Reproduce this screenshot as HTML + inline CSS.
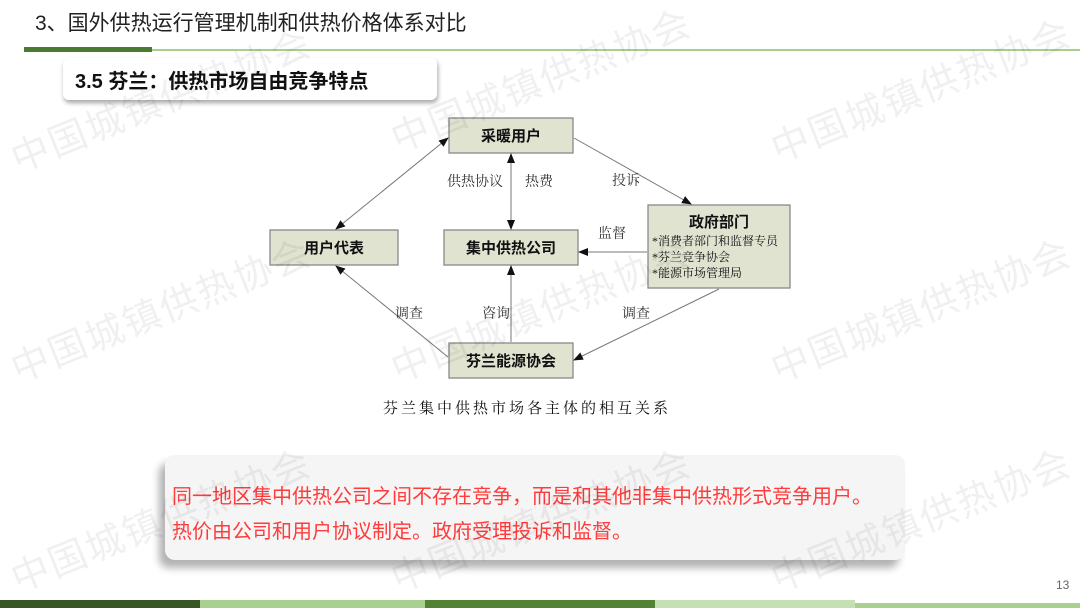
<!DOCTYPE html>
<html><head><meta charset="utf-8"><style>
body{margin:0;width:1080px;height:608px;background:#fff;position:relative;overflow:hidden;font-family:"Liberation Sans","Noto Sans CJK SC",sans-serif;}
.abs{position:absolute}
.wm{position:absolute;color:rgba(0,0,0,0.06);font-size:38px;transform:rotate(-22deg);white-space:nowrap;letter-spacing:2px}
</style></head><body>
<div class="abs" style="left:35px;top:7px;font-size:21px;color:#222">3、国外供热运行管理机制和供热价格体系对比</div>
<div class="abs" style="left:24px;top:47px;width:128px;height:5px;background:#4a7a30"></div>
<div class="abs" style="left:152px;top:49px;width:928px;height:2px;background:#a8d08d"></div>
<div class="abs" style="left:63px;top:58px;width:374px;height:42px;background:#fff;border-radius:6px;box-shadow:1px 3px 5px rgba(0,0,0,0.35)"></div>
<div class="abs" style="left:75px;top:65px;font-size:20px;font-weight:bold;color:#111">3.5 芬兰：供热市场自由竞争特点</div>

<svg class="abs" style="left:0;top:0" width="1080" height="608">
<defs><marker id="a" markerWidth="10" markerHeight="8" refX="9" refY="4" orient="auto-start-reverse" markerUnits="userSpaceOnUse"><path d="M0,0L10,4L0,8z" fill="#111"/></marker></defs>
<g fill="#dfe3d0" stroke="#888" stroke-width="1.3">
<rect x="449" y="118" width="124" height="35"/>
<rect x="270" y="230" width="128" height="35"/>
<rect x="444" y="230" width="134" height="35"/>
<rect x="648" y="205" width="142" height="83"/>
<rect x="449" y="343" width="124" height="35"/>
</g>
<g stroke="#777" stroke-width="1" fill="none">
<line x1="448" y1="138" x2="336" y2="229" marker-start="url(#a)" marker-end="url(#a)"/>
<line x1="511" y1="154" x2="511" y2="229" marker-start="url(#a)" marker-end="url(#a)"/>
<line x1="574" y1="138" x2="691" y2="204" marker-end="url(#a)"/>
<line x1="647" y1="252" x2="579" y2="252" marker-end="url(#a)"/>
<line x1="719" y1="289" x2="574" y2="360" marker-end="url(#a)"/>
<line x1="448" y1="357" x2="336" y2="266" marker-end="url(#a)"/>
<line x1="511" y1="342" x2="511" y2="266" marker-end="url(#a)"/>
</g>
<g font-family="Liberation Sans,Noto Sans CJK SC,sans-serif" fill="#111" font-size="15">
<text x="511" y="141" text-anchor="middle" font-weight="bold">采暖用户</text>
<text x="334" y="253" text-anchor="middle" font-weight="bold">用户代表</text>
<text x="511" y="253" text-anchor="middle" font-weight="bold">集中供热公司</text>
<text x="719" y="227" text-anchor="middle" font-weight="bold">政府部门</text>
<text x="511" y="366" text-anchor="middle" font-weight="bold">芬兰能源协会</text>
<g font-size="12" font-family="Liberation Serif,Noto Serif CJK SC,serif"><text x="652" y="245">*消费者部门和监督专员</text><text x="652" y="261">*芬兰竞争协会</text><text x="652" y="277">*能源市场管理局</text></g>
<g font-size="14" fill="#333" font-family="Liberation Serif,Noto Serif CJK SC,serif"><text x="447" y="186">供热协议</text><text x="525" y="186">热费</text><text x="612" y="185">投诉</text><text x="598" y="238">监督</text><text x="395" y="318">调查</text><text x="482" y="318">咨询</text><text x="622" y="318">调查</text></g>
<text x="527" y="413" text-anchor="middle" font-size="15" letter-spacing="3" font-family="Liberation Serif,Noto Serif CJK SC,serif">芬兰集中供热市场各主体的相互关系</text>
</g>
</svg>

<div class="abs" style="left:165px;top:455px;width:740px;height:105px;background:#f5f5f5;border-radius:10px;box-shadow:-6px 8px 8px rgba(0,0,0,0.3)"></div>
<div class="abs" style="left:172px;top:480px;font-size:20px;color:#ff3b3b;line-height:35px">同一地区集中供热公司之间不存在竞争，而是和其他非集中供热形式竞争用户。<br>热价由公司和用户协议制定。政府受理投诉和监督。</div>
<div class="abs" style="left:1056px;top:578px;font-size:12px;color:#666">13</div>

<div class="wm" style="left:0px;top:70px">中国城镇供热协会</div>
<div class="wm" style="left:380px;top:50px">中国城镇供热协会</div>
<div class="wm" style="left:760px;top:60px">中国城镇供热协会</div>
<div class="wm" style="left:0px;top:280px">中国城镇供热协会</div>
<div class="wm" style="left:380px;top:280px">中国城镇供热协会</div>
<div class="wm" style="left:760px;top:280px">中国城镇供热协会</div>
<div class="wm" style="left:0px;top:490px">中国城镇供热协会</div>
<div class="wm" style="left:380px;top:490px">中国城镇供热协会</div>
<div class="wm" style="left:760px;top:490px">中国城镇供热协会</div>

<div class="abs" style="left:0;top:600px;width:200px;height:8px;background:#375623"></div>
<div class="abs" style="left:200px;top:600px;width:225px;height:8px;background:#a9d08e"></div>
<div class="abs" style="left:425px;top:600px;width:230px;height:8px;background:#548235"></div>
<div class="abs" style="left:655px;top:600px;width:200px;height:8px;background:#c5e0b4"></div>
<div class="abs" style="left:855px;top:603px;width:225px;height:5px;background:#a9d08e"></div>
</body></html>
